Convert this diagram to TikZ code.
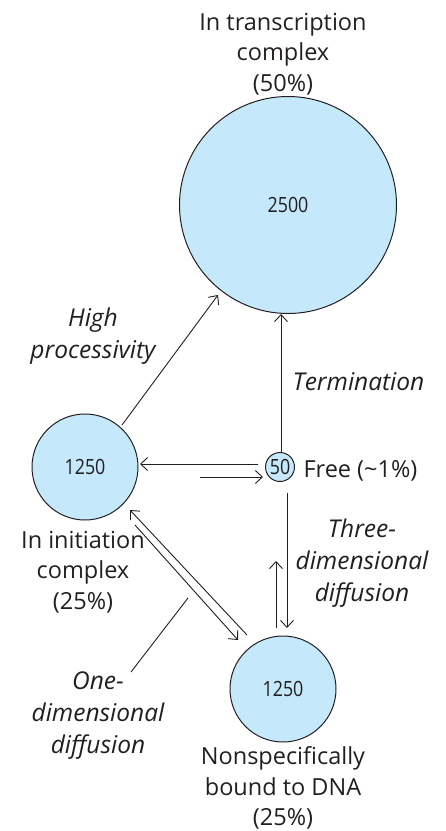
\documentclass[tikz,border=0pt]{standalone}
\usepackage{fontspec}
\setmainfont{Open Sans}
\usetikzlibrary{arrows.meta}
\definecolor{cfill}{RGB}{197,233,250}
\definecolor{ink}{RGB}{35,31,32}
\newcommand{\numtxt}[1]{\scalebox{0.85}[1]{#1}}
\begin{document}
\begin{tikzpicture}[x=1pt,y=-1pt,
  blob/.style={circle,draw=ink,line width=1pt,fill=cfill,inner sep=0pt,text=ink,font=\fontsize{21}{22}\selectfont},
  lbl/.style={align=center,text=ink,font=\fontsize{23.5}{30.5}\selectfont},
  ilbl/.style={align=center,text=ink,font=\fontsize{24.5}{32}\selectfont\itshape},
  conn/.style={draw=ink,line width=0.9pt,-{Straight Barb[length=7pt,width=13pt,line width=0.9pt]}},
  plain/.style={draw=ink,line width=0.9pt}]
\useasboundingbox (0,0) rectangle (445,831);
\node[blob,minimum size=217pt] (tc) at (288,205) {\numtxt{2500}};
\node[blob,minimum size=106pt] (ic) at (85,467) {\numtxt{1250}};
\node[blob,minimum size=29pt] (fr) at (280,467) {\numtxt{50}};
\node[blob,minimum size=106pt] (ns) at (283,689) {\numtxt{1250}};

\node[lbl] (ttc) at (283,54) {In transcription\\complex\\(50\%)};
\node[lbl,anchor=west] (tfr) at (300,471) {Free (\textasciitilde1\%)};
\node[lbl] (tic) at (83,572) {In initiation\\complex\\(25\%)};
\node[lbl] (tns) at (283,788) {Nonspecifically\\bound to DNA\\(25\%)};
\node[ilbl] (thp) at (93,336) {High\\processivity};
\node[ilbl,anchor=west] (tte) at (289,382) {Termination};
\node[ilbl] (t3d) at (362,563) {Three-\\dimensional\\diffusion};
\node[ilbl] (t1d) at (98,716) {One-\\dimensional\\diffusion};

\coordinate (a1) at (281,452); \coordinate (a2) at (281,314);
\draw[conn] (a1) -- (a2);
\coordinate (b1) at (122,425); \coordinate (b2) at (218,295);
\draw[conn] (b1) -- (b2);
\coordinate (c1) at (258,464); \coordinate (c2) at (140,464);
\draw[conn] (c1) -- (c2);
\coordinate (d1) at (200,477); \coordinate (d2) at (263,477);
\draw[conn] (d1) -- (d2);
\coordinate (e1) at (287,493); \coordinate (e2) at (287,628);
\draw[conn] (e1) -- (e2);
\coordinate (f1) at (276,628); \coordinate (f2) at (276,561);
\draw[conn] (f1) -- (f2);
\coordinate (g1) at (247,635); \coordinate (g2) at (130,510);
\draw[conn] (g1) -- (g2);
\coordinate (h1) at (135,525); \coordinate (h2) at (238,640);
\draw[conn] (h1) -- (h2);
\coordinate (p1) at (188,598); \coordinate (p2) at (131,672);
\draw[plain] (p1) -- (p2);
\end{tikzpicture}
\end{document}
